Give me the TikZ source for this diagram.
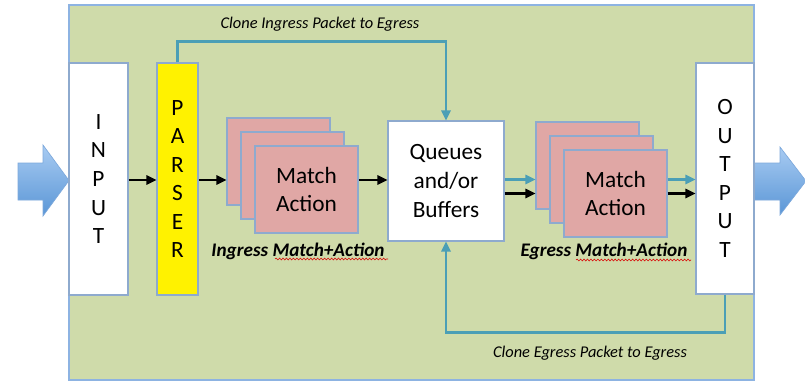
\documentclass[tikz,border=0pt]{standalone}
\usepackage{fontspec}
\setmainfont{Carlito}
\usetikzlibrary{arrows.meta,decorations.pathmorphing,calc}
\definecolor{bggreen}{HTML}{CFDBAA}
\definecolor{bgedge}{HTML}{8DB3E2}
\definecolor{boxedge}{HTML}{8EAACE}
\definecolor{mapink}{HTML}{E0A7A5}
\definecolor{teal}{HTML}{4B9FB6}
\definecolor{arrowtop}{HTML}{A8CBF2}
\definecolor{arrowbot}{HTML}{5A96D6}
\definecolor{arrowedge}{HTML}{7DA9DC}
\newcommand\pxu{0.75pt}
\tikzset{
  box/.style={draw=boxedge, line width=0.8pt, inner sep=0pt, align=center,
    font=\fontsize{17.5}{21.4}\selectfont},
  inbox/.style={box, fill=white},
  parsebox/.style={box, fill=yellow},
  mabox/.style={box, fill=mapink, minimum width=103*\pxu, minimum height=87*\pxu},
  blk/.style={line width=1.6pt, -{Triangle[length=7.5pt,width=7pt]}},
  tl/.style={draw=teal, line width=1.6pt, -{Triangle[length=7.5pt,width=7pt]}},
  lbl/.style={font=\fontsize{12.3}{14}\selectfont\itshape, inner sep=0pt},
  blbl/.style={font=\fontsize{14.4}{16}\selectfont\bfseries\itshape, inner sep=0pt},
  squig/.style={draw=red!85!black, line width=0.4pt, decorate,
    decoration={snake, amplitude=0.7pt, segment length=2.6pt}},
  bigarrow/.style={draw=arrowedge, line width=0.5pt, top color=arrowtop, bottom color=arrowbot}
}
\begin{document}
\begin{tikzpicture}[x=0.75pt,y=-0.75pt]
\useasboundingbox (0,0) rectangle (805,381);
% background panel
\fill[white] (0,0) rectangle (805,381);
\draw[bgedge, line width=0.8pt, fill=bggreen] (69,5) rectangle (754,380);
% big blue arrows
\begin{scope}
\clip (0,0) rectangle (805,381);
\path[bigarrow] (18,163) -- (43,163) -- (43,145) -- (69,180.5) -- (43,216) -- (43,200) -- (18,200) -- cycle;
\path[bigarrow] (754,163) -- (780,163) -- (780,147) -- (806,181) -- (780,215) -- (780,200) -- (754,200) -- cycle;
\end{scope}
% main boxes
\node[inbox, minimum width=59*\pxu, minimum height=232*\pxu] (input) at (98.5,179) {I\\N\\P\\U\\T};
\node[parsebox, minimum width=41*\pxu, minimum height=232*\pxu] (parser) at (177.5,179) {P\\A\\R\\S\\E\\R};
\node[mabox] (ma1) at (278.5,161.5) {};
\node[mabox] (ma2) at (292.5,175.5) {};
\node[mabox] (ma3) at (306.5,189.5) {Match\\Action};
\node[inbox, minimum width=116*\pxu, minimum height=120*\pxu] (queues) at (446,181) {Queues\\and/or\\Buffers};
\node[mabox] (ema1) at (587.5,165.5) {};
\node[mabox] (ema2) at (601.5,179.5) {};
\node[mabox] (ema3) at (615.5,193.5) {Match\\Action};
\node[inbox, minimum width=58*\pxu, minimum height=231*\pxu] (output) at (725,178.5) {O\\U\\T\\P\\U\\T};
% helper levels
\coordinate (mainY) at (0,180);
\coordinate (tealY) at (0,179.5);
\coordinate (blackY) at (0,193.5);
% black arrows
\draw[blk] (input.east |- mainY) -- (parser.west |- mainY);
\draw[blk] (parser.east |- mainY) -- (ma1.west |- mainY);
\draw[blk] (ma3.east |- mainY) -- (queues.west |- mainY);
\draw[tl] (queues.east |- tealY) -- (ema1.west |- tealY);
\draw[blk] (queues.east |- blackY) -- (ema1.west |- blackY);
\draw[tl] (ema3.east |- tealY) -- (output.west |- tealY);
\draw[blk] (ema3.east |- blackY) -- (output.west |- blackY);
% clone paths
\draw[tl] (parser.north) -- ++(0,-21) -| (queues.north);
\draw[tl] (output.south) -- ++(0,38) -| (queues.south);
% labels
\node[lbl] (lclin) at (320,24) {Clone Ingress Packet to Egress};
\node[lbl] (lcleg) at (590,353) {Clone Egress Packet to Egress};
\node[blbl] (ling) at (298,251) {Ingress Match+Action};
\node[blbl] (leg) at (604,251) {Egress Match+Action};
% spell-check squiggles
\draw[squig] (275,259) -- (388,259);
\draw[squig] (576,260) -- (691,260);
\end{tikzpicture}
\end{document}
